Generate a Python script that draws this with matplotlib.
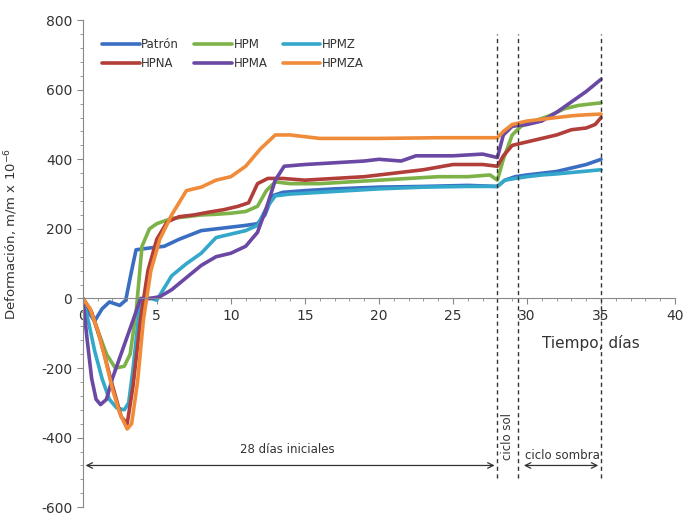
import numpy as np
import matplotlib.pyplot as plt

plt.rcParams["axes.unicode_minus"] = False

# Deformación vs tiempo (días)
names = ["Patrón", "HPNA", "HPM", "HPMA", "HPMZ", "HPMZA"]
colors = ["#3a6ec2", "#b23e3a", "#7db248", "#6a48a4", "#33a8ca", "#f08b3a"]

patron_x = [0, 0.4, 0.8, 1.3, 1.8, 2.5, 2.9, 3.3, 3.6, 4.5, 5.5, 6.5, 8, 9, 10, 11, 11.8, 12.3, 12.8, 13.5, 15, 17, 20, 23, 26, 28, 28.5, 29.2, 30, 31, 32, 33, 34, 35]
patron_y = [0, -40, -65, -30, -10, -20, -5, 80, 140, 145, 150, 170, 195, 200, 205, 210, 215, 240, 295, 305, 310, 315, 320, 322, 325, 322, 340, 350, 355, 360, 365, 375, 385, 400]

hpna_x = [0, 0.6, 1.2, 2, 2.6, 3, 3.4, 3.9, 4.4, 5, 5.7, 6.5, 7.5, 8.5, 9.5, 10.5, 11.2, 11.8, 12.5, 13.5, 15, 17, 19, 21, 23, 25, 27, 28, 28.4, 29, 30, 31, 32, 33, 34, 34.6, 35]
hpna_y = [0, -40, -120, -250, -340, -360, -250, -60, 80, 170, 220, 235, 240, 248, 255, 265, 275, 330, 345, 345, 340, 345, 350, 360, 370, 385, 385, 380, 410, 440, 450, 460, 470, 485, 490, 500, 520]

hpm_x = [0, 0.5, 1, 1.6, 2.2, 2.8, 3.2, 3.6, 4, 4.5, 5, 6, 7, 8, 9, 10, 11, 11.8, 12.4, 13, 14, 16, 18, 20, 22, 24, 26, 27.5, 28, 28.4, 29, 29.6, 30.5, 31.5, 32.5, 33.5, 34.5, 35]
hpm_y = [0, -30, -90, -160, -200, -195, -160, -40, 150, 200, 215, 230, 235, 240, 242, 245, 250, 265, 310, 335, 330, 330, 335, 340, 345, 350, 350, 355, 340, 400, 470, 495, 510, 525, 545, 555, 560, 562]

hpma_x = [0, 0.3, 0.6, 0.9, 1.2, 1.6, 2, 2.5, 3, 3.5, 3.9, 4.5, 5.2, 6, 7, 8, 9, 10, 11, 11.8, 12.4, 13, 13.6, 15, 17, 19, 20, 21.5, 22.5, 25, 27, 28, 28.4, 29, 30, 31, 32, 33, 34, 35]
hpma_y = [0, -120, -230, -290, -305, -290, -230, -170, -110, -50, 0, 0, 5, 25, 60, 95, 120, 130, 150, 190, 260, 340, 380, 385, 390, 395, 400, 395, 410, 410, 415, 405, 470, 495, 500, 510, 535, 565, 595, 630]

hpmz_x = [0, 0.4, 0.8, 1.3, 1.8, 2.3, 2.8, 3.1, 3.4, 3.8, 4.1, 4.6, 5, 5.5, 6, 7, 8, 9, 10, 11, 11.8, 12.4, 13, 14, 16, 18, 20, 23, 26, 28, 28.5, 29.2, 30, 31, 32, 33, 34, 35]
hpmz_y = [0, -70, -150, -230, -290, -315, -320, -300, -200, -40, 0, 0, -5, 30, 65, 100, 130, 175, 185, 195, 210, 260, 295, 300, 305, 310, 315, 320, 322, 322, 340, 345, 350, 355, 358, 362, 366, 370]

hpmza_x = [0, 0.5, 1, 1.5, 2, 2.5, 3, 3.3, 3.7, 4.1, 4.6, 5.2, 6, 7, 8, 9, 10, 11, 12, 13, 14, 15, 16, 18, 20, 24, 28, 28.4, 29, 30, 31, 32, 33, 34, 35]
hpmza_y = [0, -30, -90, -170, -260, -330, -375, -360, -240, -60, 80, 170, 240, 310, 320, 340, 350, 380, 430, 470, 470, 465, 460, 460, 460, 462, 462, 480, 500, 510, 515, 520, 525, 528, 530]

xs = [patron_x, hpna_x, hpm_x, hpma_x, hpmz_x, hpmza_x]
ys = [patron_y, hpna_y, hpm_y, hpma_y, hpmz_y, hpmza_y]
order = [0, 2, 4, 1, 3, 5]

cycle_marks = [28, 29.4, 35]

fig, ax = plt.subplots(figsize=(6.84, 5.16), dpi=100)
fig.subplots_adjust(left=0.121, right=0.987, top=0.961, bottom=0.017)

handles = {}
for i in order:
    h, = ax.plot(xs[i], ys[i], color=colors[i], lw=2.6, label=names[i],
                 solid_capstyle="round", solid_joinstyle="round")
    handles[i] = h

for xm in cycle_marks:
    ax.plot([xm, xm], [-515, 760], color="#333333", lw=1, ls=(0, (3, 2.5)))

# flechas y textos
ax.annotate("", xy=(0, -480), xytext=(28, -480),
            arrowprops=dict(arrowstyle="<->", color="#333333", lw=0.9))
ax.annotate("", xy=(29.6, -480), xytext=(35, -480),
            arrowprops=dict(arrowstyle="<->", color="#333333", lw=0.9))
ax.text(13.8, -434, "28 días iniciales", ha="center", va="center", fontsize=8.5, color="#333333")
ax.text(32.4, -450, "ciclo sombra", ha="center", va="center", fontsize=8.5, color="#333333")
ax.text(28.7, -396, "ciclo sol", ha="center", va="center", rotation=90, fontsize=8.5, color="#333333")
ax.text(34.3, -128, "Tiempo, días", ha="center", va="center", fontsize=11, color="#333333")

ax.set_xlim(0, 40)
ax.set_ylim(-600, 800)
ax.spines["top"].set_visible(False)
ax.spines["right"].set_visible(False)
ax.spines["bottom"].set_position(("data", 0))
ax.spines["bottom"].set_color("#888888")
ax.spines["left"].set_color("#888888")
ax.set_xticks(np.arange(0, 41, 5))
ax.set_xticks(np.arange(0, 41, 1), minor=True)
ax.set_yticks(np.arange(-600, 801, 200))
ax.set_yticks(np.arange(-600, 801, 40), minor=True)
ax.tick_params(axis="both", which="both", colors="#888888", labelcolor="#333333", labelsize=10)
ax.tick_params(axis="both", which="major", length=4)
ax.tick_params(axis="both", which="minor", length=2.5)
ax.set_ylabel("Deformación, m/m x 10$^{-6}$", fontsize=9.5, color="#333333")
ax.yaxis.set_label_coords(-0.106, 0.561)

ax.legend([handles[i] for i in range(6)], names, ncol=3, loc="upper left",
          bbox_to_anchor=(0.015, 0.985), frameon=False, fontsize=8.5, handlelength=3.2,
          columnspacing=1.3, labelspacing=0.5, handletextpad=0.1, labelcolor="#333333")

fig.savefig("out.png")
